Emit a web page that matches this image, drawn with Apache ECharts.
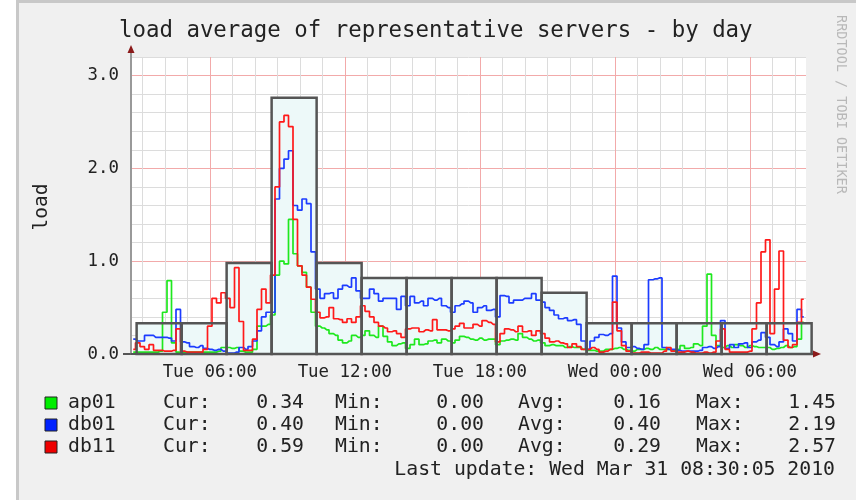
<!DOCTYPE html>
<html>
<head>
<meta charset="utf-8">
<title>load average of representative servers - by day</title>
<script src="https://cdn.jsdelivr.net/npm/echarts@6/dist/echarts.min.js"></script>
<style>
  html, body { margin: 0; padding: 0; background: #fff; }
  #chart { width: 856px; height: 500px; }
</style>
</head>
<body>
<div id="chart"></div>
<script>
// x is hours since Tue 00:00, one sample every 12 minutes
var sampleStart = 2.6;
var sampleStep = 0.2;

var ap01 = [
  0.02, 0.02, 0.02, 0.02, 0.02, 0.02, 0.03, 0.45, 0.79, 0.12,
  0.02, 0.02, 0.02, 0.02, 0.02, 0.02, 0.02, 0.02, 0.02, 0.03,
  0.07, 0.07, 0.06, 0.07, 0.03, 0.02, 0.02, 0.05, 0.30, 0.30,
  0.32, 0.42, 0.85, 1.00, 0.97, 1.45, 1.08, 0.95, 0.88, 0.72,
  0.45, 0.30, 0.28, 0.26, 0.22, 0.20, 0.15, 0.12, 0.14, 0.20,
  0.18, 0.20, 0.25, 0.20, 0.18, 0.30, 0.19, 0.13, 0.09, 0.11,
  0.12, 0.06, 0.10, 0.16, 0.10, 0.11, 0.14, 0.15, 0.12, 0.16,
  0.14, 0.12, 0.15, 0.19, 0.18, 0.16, 0.15, 0.17, 0.15, 0.16,
  0.16, 0.10, 0.14, 0.15, 0.16, 0.15, 0.22, 0.18, 0.16, 0.14,
  0.15, 0.12, 0.09, 0.10, 0.09, 0.09, 0.07, 0.08, 0.07, 0.07,
  0.05, 0.04, 0.04, 0.03, 0.03, 0.05, 0.05, 0.06, 0.07, 0.05,
  0.04, 0.03, 0.05, 0.05, 0.06, 0.05, 0.07, 0.05, 0.05, 0.05,
  0.04, 0.05, 0.09, 0.06, 0.07, 0.11, 0.09, 0.30, 0.86, 0.20,
  0.09, 0.07, 0.09, 0.07, 0.10, 0.09, 0.07, 0.09, 0.08, 0.07,
  0.07, 0.07, 0.05, 0.06, 0.07, 0.09, 0.07, 0.08, 0.16, 0.34
];
var db01 = [
  0.16, 0.14, 0.14, 0.20, 0.20, 0.18, 0.18, 0.18, 0.17, 0.14,
  0.48, 0.13, 0.12, 0.08, 0.07, 0.09, 0.06, 0.05, 0.04, 0.05,
  0.03, 0.01, 0.01, 0.02, 0.07, 0.05, 0.08, 0.14, 0.25, 0.40,
  0.45, 0.45, 1.67, 2.00, 2.10, 2.19, 1.60, 1.55, 1.67, 1.62,
  1.10, 0.70, 0.60, 0.65, 0.66, 0.60, 0.70, 0.74, 0.72, 0.82,
  0.68, 0.60, 0.60, 0.70, 0.65, 0.57, 0.60, 0.60, 0.60, 0.48,
  0.62, 0.52, 0.62, 0.55, 0.57, 0.52, 0.60, 0.58, 0.60, 0.52,
  0.50, 0.45, 0.52, 0.54, 0.57, 0.55, 0.45, 0.50, 0.52, 0.47,
  0.48, 0.40, 0.63, 0.62, 0.55, 0.58, 0.58, 0.60, 0.60, 0.65,
  0.58, 0.56, 0.50, 0.47, 0.42, 0.38, 0.39, 0.36, 0.37, 0.32,
  0.14, 0.05, 0.14, 0.18, 0.21, 0.20, 0.22, 0.84, 0.28, 0.13,
  0.07, 0.08, 0.06, 0.05, 0.10, 0.80, 0.81, 0.82, 0.07, 0.05,
  0.05, 0.04, 0.03, 0.03, 0.03, 0.03, 0.04, 0.07, 0.08, 0.06,
  0.08, 0.36, 0.06, 0.10, 0.07, 0.11, 0.12, 0.07, 0.13, 0.15,
  0.23, 0.18, 0.10, 0.08, 0.13, 0.27, 0.22, 0.14, 0.48, 0.40
];
var db11 = [
  0.05, 0.12, 0.08, 0.05, 0.10, 0.04, 0.04, 0.03, 0.03, 0.04,
  0.27, 0.03, 0.02, 0.02, 0.02, 0.02, 0.05, 0.30, 0.60, 0.55,
  0.66, 0.60, 0.50, 0.93, 0.35, 0.04, 0.04, 0.16, 0.48, 0.70,
  0.55, 0.85, 1.80, 2.50, 2.57, 2.45, 1.45, 0.95, 0.85, 0.72,
  0.59, 0.45, 0.39, 0.40, 0.50, 0.38, 0.37, 0.34, 0.38, 0.34,
  0.40, 0.52, 0.46, 0.40, 0.34, 0.30, 0.28, 0.24, 0.25, 0.22,
  0.18, 0.27, 0.28, 0.28, 0.24, 0.26, 0.25, 0.37, 0.26, 0.26,
  0.25, 0.27, 0.30, 0.33, 0.28, 0.28, 0.32, 0.30, 0.36, 0.34,
  0.32, 0.13, 0.22, 0.27, 0.26, 0.24, 0.30, 0.24, 0.25, 0.20,
  0.25, 0.22, 0.17, 0.13, 0.14, 0.12, 0.11, 0.07, 0.11, 0.08,
  0.05, 0.05, 0.07, 0.05, 0.02, 0.03, 0.05, 0.56, 0.25, 0.09,
  0.03, 0.01, 0.01, 0.02, 0.02, 0.01, 0.01, 0.01, 0.03, 0.07,
  0.03, 0.02, 0.02, 0.03, 0.02, 0.01, 0.01, 0.02, 0.01, 0.02,
  0.14, 0.27, 0.05, 0.02, 0.02, 0.02, 0.02, 0.03, 0.27, 0.55,
  1.10, 1.23, 0.22, 0.70, 1.11, 0.15, 0.07, 0.10, 0.34, 0.59
];

// 2-hour boxes drawn behind the lines
var stepStarts = [2.75, 4.75, 6.75, 8.75, 10.75, 12.75, 14.75, 16.75, 18.75, 20.75, 22.75, 24.75, 26.75, 28.75, 30.75];
var stepWidth = 2;
var stepValues = [0.33, 0.33, 0.98, 2.76, 0.98, 0.82, 0.82, 0.82, 0.82, 0.66, 0.33, 0.33, 0.33, 0.33, 0.33];

var xTickHours = [6, 12, 18, 24, 30];
var xTickLabels = ["Tue 06:00", "Tue 12:00", "Tue 18:00", "Wed 00:00", "Wed 06:00"];

var seriesNames = ["ap01", "db01", "db11"];
var seriesColors = ["#1ee81e", "#1c3cff", "#ff1a1a"];
var boxColors = ["#00ee00", "#0022ff", "#ee0000"];
var curValues = [0.34, 0.40, 0.59];
var minValues = [0.00, 0.00, 0.00];
var avgValues = [0.16, 0.40, 0.29];
var maxValues = [1.45, 2.19, 2.57];
var lastUpdate = "Last update: Wed Mar 31 08:30:05 2010";

var mono = "DejaVu Sans Mono";
var majorColor = "#f2aaaa";
var minorColor = "#dcdcdc";

var times = [];
for (var i = 0; i < ap01.length; i++) {
  times.push(sampleStart + i * sampleStep);
}
function pairs(values) {
  return values.map(function (v, i) {
    return [times[i], v];
  });
}

// x ticks every half hour from 02:30, only whole hours get a line
var xGridColors = [];
for (var k = 0; k < 12; k++) {
  var h = 2.5 + k * 0.5;
  if (h % 1 !== 0) xGridColors.push("rgba(0,0,0,0)");
  else if (h % 6 === 0) xGridColors.push(majorColor);
  else xGridColors.push(minorColor);
}
var yGridColors = [majorColor, minorColor, minorColor, minorColor, minorColor];

var gridLeft = 131, gridTop = 57, gridWidth = 675, gridHeight = 297;

var chart = echarts.init(document.getElementById("chart"));

function txt(x, y, s, align, size, color) {
  return {
    type: "text", x: x, y: y, silent: true,
    style: {
      text: s, fontFamily: mono, fontSize: size || 19.8, fill: color || "#222",
      align: align, textAlign: align, verticalAlign: "middle", textVerticalAlign: "middle"
    }
  };
}

var graphics = [
  { type: "rect", shape: { x: 0, y: 0, width: 16, height: 500 }, style: { fill: "#ffffff" }, silent: true },
  { type: "rect", shape: { x: 16, y: 0, width: 3, height: 500 }, style: { fill: "#c8c8c8" }, silent: true },
  { type: "rect", shape: { x: 16, y: 0, width: 840, height: 3 }, style: { fill: "#c8c8c8" }, silent: true },
  txt(119, 31, "load average of representative servers - by day", "left", 22.4),
  {
    type: "text", x: 42, y: 207, rotation: Math.PI / 2, silent: true,
    style: { text: "load", fontFamily: mono, fontSize: 19.5, fill: "#222",
      align: "center", textAlign: "center", verticalAlign: "middle", textVerticalAlign: "middle" }
  },
  {
    type: "text", x: 840, y: 15, rotation: -Math.PI / 2, silent: true,
    style: { text: "RRDTOOL / TOBI OETIKER", fontFamily: mono, fontSize: 13.5, fill: "#b8b8b8",
      align: "left", textAlign: "left", verticalAlign: "middle", textVerticalAlign: "middle" }
  },
  // axis extensions and arrows
  { type: "line", shape: { x1: gridLeft, y1: gridTop, x2: gridLeft, y2: 52 }, style: { stroke: "#999", lineWidth: 2 }, silent: true },
  { type: "polygon", shape: { points: [[gridLeft, 45], [gridLeft - 3.5, 53], [gridLeft + 3.5, 53]] }, style: { fill: "#8b1a1a" }, silent: true },
  { type: "line", shape: { x1: 123, y1: gridTop + gridHeight, x2: gridLeft, y2: gridTop + gridHeight }, style: { stroke: "#555", lineWidth: 2 }, silent: true },
  { type: "line", shape: { x1: gridLeft + gridWidth, y1: gridTop + gridHeight, x2: 814, y2: gridTop + gridHeight }, style: { stroke: "#555", lineWidth: 2 }, silent: true },
  { type: "polygon", shape: { points: [[821, gridTop + gridHeight], [813, gridTop + gridHeight - 3.5], [813, gridTop + gridHeight + 3.5]] }, style: { fill: "#8b1a1a" }, silent: true },
  txt(835, 470, lastUpdate, "right")
];

seriesNames.forEach(function (name, i) {
  var y = 403 + i * 22;
  graphics.push({ type: "rect", silent: true, shape: { x: 45, y: y - 6, width: 12, height: 12 },
    style: { fill: boxColors[i], stroke: "#222", lineWidth: 1 } });
  graphics.push(txt(68, y, name, "left"));
  graphics.push(txt(163, y, "Cur:", "left"));
  graphics.push(txt(304, y, curValues[i].toFixed(2), "right"));
  graphics.push(txt(335, y, "Min:", "left"));
  graphics.push(txt(484, y, minValues[i].toFixed(2), "right"));
  graphics.push(txt(518, y, "Avg:", "left"));
  graphics.push(txt(661, y, avgValues[i].toFixed(2), "right"));
  graphics.push(txt(696, y, "Max:", "left"));
  graphics.push(txt(836, y, maxValues[i].toFixed(2), "right"));
});

var stepData = stepStarts.map(function (s, i) {
  return [s, s + stepWidth, stepValues[i]];
});
function stepBox(style) {
  return function (params, api) {
    var p0 = api.coord([api.value(0), api.value(2)]);
    var p1 = api.coord([api.value(1), 0]);
    return {
      type: "rect",
      shape: { x: p0[0], y: p0[1], width: p1[0] - p0[0], height: p1[1] - p0[1] },
      style: style
    };
  };
}

var lineSeries = [ap01, db01, db11].map(function (vals, i) {
  return {
    name: seriesNames[i],
    type: "line",
    data: pairs(vals),
    step: "middle",
    showSymbol: false,
    z: 3 + i,
    lineStyle: { color: seriesColors[i], width: 1.7 },
    itemStyle: { color: seriesColors[i] }
  };
});

var option = {
  animation: false,
  backgroundColor: "#f0f0f0",
  grid: {
    left: gridLeft, top: gridTop, width: gridWidth, height: gridHeight,
    show: true, backgroundColor: "#ffffff", borderWidth: 0,
    containLabel: false, outerBoundsMode: "none"
  },
  xAxis: {
    type: "value",
    min: 2.5,
    max: 32.5,
    interval: 0.5,
    axisLine: { show: true, onZero: false, lineStyle: { color: "#555", width: 2 } },
    axisTick: { show: false },
    axisLabel: {
      fontFamily: mono, fontSize: 17.4, color: "#222", margin: 10,
      formatter: function (v) {
        var k = xTickHours.indexOf(Math.round(v * 2) / 2);
        return k >= 0 ? xTickLabels[k] : "";
      }
    },
    splitLine: { show: true, lineStyle: { color: xGridColors, width: 1 } }
  },
  yAxis: {
    type: "value",
    min: 0,
    max: 3.2,
    interval: 0.2,
    axisLine: { show: true, lineStyle: { color: "#999", width: 2 } },
    axisTick: { show: false },
    axisLabel: {
      fontFamily: mono, fontSize: 17.4, color: "#222", margin: 12,
      formatter: function (v) {
        return Math.abs(v - Math.round(v)) < 1e-6 ? v.toFixed(1) : "";
      }
    },
    splitLine: { show: true, lineStyle: { color: yGridColors, width: 1 } }
  },
  series: [
    {
      type: "custom", name: "boxFill", z: 1, silent: true, clip: false,
      data: stepData,
      renderItem: stepBox({ fill: "#edf9f9" })
    }
  ].concat(lineSeries).concat([
    {
      type: "custom", name: "boxEdge", z: 10, silent: true, clip: false,
      data: stepData,
      renderItem: stepBox({ fill: "none", stroke: "#555", lineWidth: 2.5 })
    }
  ]),
  graphic: graphics
};

chart.setOption(option);
</script>
</body>
</html>
